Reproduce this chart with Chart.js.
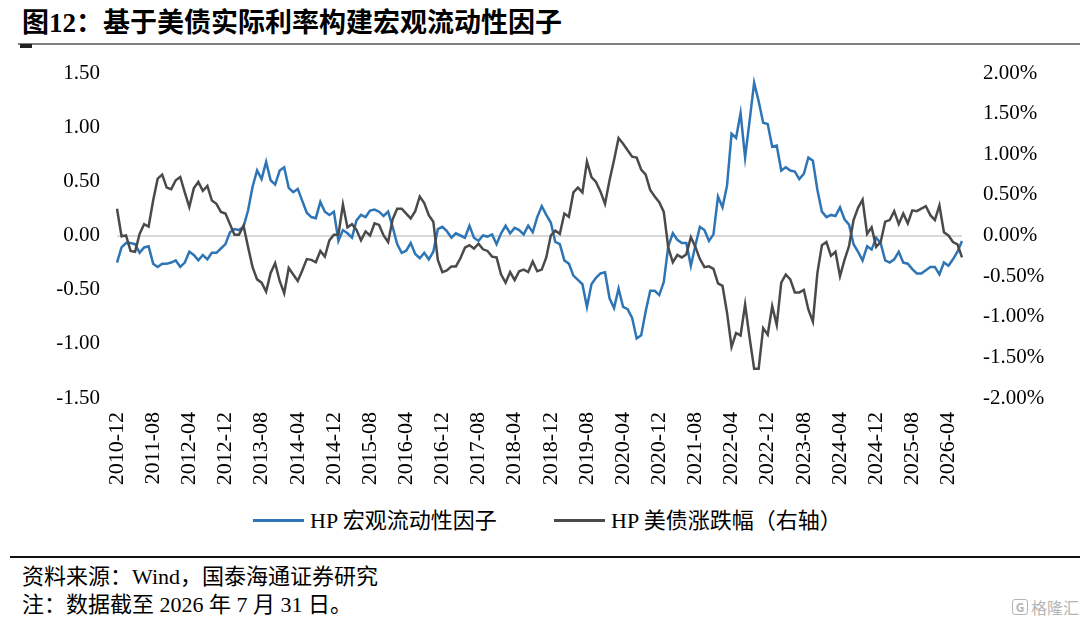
<!DOCTYPE html>
<html>
<head>
<meta charset="utf-8">
<script src="https://cdn.jsdelivr.net/npm/chart.js@4.4.0/dist/chart.umd.min.js"></script>
<style>
  body { margin: 0; background: #fff; }
  #page { position: relative; width: 1080px; height: 625px; overflow: hidden; background: #fff;
          font-family: 'Liberation Serif', 'Noto Sans CJK SC', serif; color: #000; }
  #title { position: absolute; left: 22px; top: 5px; font-size: 27px; font-weight: bold; line-height: 36px;
           font-family: 'Liberation Serif', 'Noto Sans CJK SC', serif; }
  #titleLine { position: absolute; left: 18px; top: 43px; width: 1062px; height: 2px; background: #808080; }
  #titleMark { position: absolute; left: 20px; top: 44px; width: 12px; height: 4px; background: #222; }
  #box { position: absolute; left: 0; top: 0; width: 1080px; height: 500px; }
  .leg { position: absolute; top: 507px; font-size: 22px; line-height: 28px; white-space: nowrap; }
  .leg span { display: inline-block; width: 51px; height: 3px; vertical-align: middle; margin-right: 6px; position: relative; top: -2px; }
  #bottomLine { position: absolute; left: 10px; top: 556px; width: 1070px; height: 2px; background: #111; }
  .foot { position: absolute; left: 22px; font-size: 22px; line-height: 28px; white-space: nowrap; }
  #mark { position: absolute; left: 1012px; top: 595px; font-size: 16px; color: #b5b5b5; font-family: 'Noto Sans CJK SC', sans-serif; }
  #mark b { display: inline-block; border: 1.5px solid #b5b5b5; border-radius: 3px; font-size: 12px; line-height: 14px;
            width: 14px; text-align: center; margin-right: 3px; vertical-align: 2px; }
</style>
</head>
<body>
<div id="page">
  <div id="title">图12：基于美债实际利率构建宏观流动性因子</div>
  <div id="titleLine"></div>
  <div id="titleMark"></div>
  <div id="box"><canvas id="myChart"></canvas></div>
  <div class="leg" style="left:253px"><span style="background:#2e75b6"></span>HP 宏观流动性因子</div>
  <div class="leg" style="left:554px"><span style="background:#4a4a4a"></span>HP 美债涨跌幅（右轴）</div>
  <div id="bottomLine"></div>
  <div class="foot" style="top:563px">资料来源：Wind，国泰海通证券研究</div>
  <div class="foot" style="top:591px">注：数据截至 2026 年 7 月 31 日。</div>
  <div id="mark"><b>G</b>格隆汇</div>
</div>
<script>
// monthly categories, 2010-12 .. 2026-07
const START_YEAR = 2010, START_MONTH = 12, N_POINTS = 188;
var months = [];
for (var k = 0; k < N_POINTS; k++) {
    var m = START_MONTH - 1 + k;
    var y = START_YEAR + Math.floor(m / 12);
    var mm = (m % 12) + 1;
    months.push(y + '-' + (mm < 10 ? '0' : '') + mm);
}

// labels that are shown on the x axis
const tickLabels = ['2010-12', '2011-08', '2012-04', '2012-12', '2013-08', '2014-04', '2014-12', '2015-08',
    '2016-04', '2016-12', '2017-08', '2018-04', '2018-12', '2019-08', '2020-04', '2020-12',
    '2021-08', '2022-04', '2022-12', '2023-08', '2024-04', '2024-12', '2025-08', '2026-04'];

// HP 宏观流动性因子 (left axis)
const hpFactor = [
    -0.25, -0.11, -0.07, -0.07, -0.08, -0.16, -0.11, -0.10, -0.26, -0.29,
    -0.26, -0.26, -0.25, -0.23, -0.29, -0.25, -0.15, -0.18, -0.23, -0.18,
    -0.22, -0.16, -0.16, -0.12, -0.08, 0.03, 0.06, 0.05, 0.08, 0.23,
    0.45, 0.60, 0.52, 0.68, 0.51, 0.47, 0.60, 0.63, 0.44, 0.40,
    0.43, 0.32, 0.21, 0.17, 0.16, 0.31, 0.22, 0.19, 0.22, -0.05,
    0.05, 0.02, -0.02, 0.14, 0.19, 0.17, 0.23, 0.24, 0.22, 0.18,
    0.22, 0.08, -0.08, -0.16, -0.14, -0.07, -0.17, -0.21, -0.16, -0.22,
    -0.15, 0.06, 0.08, 0.04, -0.02, 0.02, 0.00, -0.02, 0.09, -0.02,
    -0.05, 0.00, -0.01, 0.01, -0.08, 0.02, 0.09, 0.02, 0.07, 0.05,
    0.01, 0.09, 0.03, 0.17, 0.27, 0.19, 0.12, -0.06, -0.08, -0.23,
    -0.26, -0.37, -0.41, -0.45, -0.66, -0.45, -0.39, -0.35, -0.34, -0.58,
    -0.67, -0.49, -0.66, -0.68, -0.76, -0.95, -0.92, -0.70, -0.51, -0.51,
    -0.55, -0.43, -0.10, 0.02, -0.04, -0.07, -0.07, -0.28, -0.09, 0.08,
    0.05, -0.05, 0.01, 0.36, 0.26, 0.46, 0.94, 0.90, 1.13, 0.72,
    1.06, 1.41, 1.24, 1.04, 1.03, 0.82, 0.83, 0.60, 0.63, 0.60,
    0.59, 0.52, 0.57, 0.72, 0.69, 0.42, 0.22, 0.17, 0.19, 0.18,
    0.26, 0.15, 0.10, -0.08, -0.15, -0.23, -0.10, -0.13, -0.02, -0.07,
    -0.23, -0.25, -0.22, -0.15, -0.25, -0.26, -0.31, -0.35, -0.35, -0.32,
    -0.29, -0.29, -0.36, -0.25, -0.28, -0.22, -0.15, -0.05
];

// HP 美债涨跌幅, in % (right axis)
const hpBond = [
    0.33, -0.01, 0.00, -0.19, -0.20, 0.02, 0.14, 0.11, 0.43, 0.70,
    0.75, 0.59, 0.57, 0.68, 0.72, 0.53, 0.35, 0.58, 0.66, 0.55,
    0.61, 0.43, 0.39, 0.29, 0.27, 0.14, 0.01, 0.01, 0.12, -0.14,
    -0.39, -0.54, -0.58, -0.69, -0.46, -0.34, -0.56, -0.71, -0.40, -0.48,
    -0.56, -0.43, -0.29, -0.30, -0.33, -0.19, -0.26, -0.06, 0.01, 0.01,
    0.38, 0.10, 0.14, 0.07, -0.06, 0.05, 0.00, 0.15, 0.13, 0.00,
    -0.08, 0.20, 0.33, 0.33, 0.27, 0.21, 0.30, 0.48, 0.40, 0.25,
    0.17, -0.30, -0.45, -0.43, -0.38, -0.38, -0.28, -0.15, -0.12, -0.16,
    -0.10, -0.17, -0.19, -0.26, -0.27, -0.48, -0.58, -0.45, -0.55, -0.44,
    -0.42, -0.45, -0.32, -0.44, -0.42, -0.27, 0.00, 0.06, 0.02, 0.27,
    0.23, 0.53, 0.59, 0.53, 0.91, 0.72, 0.66, 0.54, 0.39, 0.68,
    0.93, 1.20, 1.13, 1.05, 0.97, 0.96, 0.81, 0.75, 0.56, 0.48,
    0.41, 0.29, -0.15, -0.33, -0.24, -0.27, -0.23, -0.02, -0.14, -0.29,
    -0.39, -0.38, -0.41, -0.59, -0.62, -0.95, -1.37, -1.20, -1.23, -0.85,
    -1.26, -1.64, -1.64, -1.14, -1.22, -0.87, -1.10, -0.58, -0.48, -0.54,
    -0.70, -0.70, -0.67, -0.91, -1.06, -0.46, -0.12, -0.08, -0.25, -0.20,
    -0.50, -0.30, -0.13, 0.19, 0.34, 0.44, 0.02, 0.10, -0.14, -0.08,
    0.17, 0.19, 0.30, 0.14, 0.27, 0.15, 0.31, 0.30, 0.33, 0.36,
    0.25, 0.19, 0.37, 0.04, 0.00, -0.08, -0.11, -0.27
];

const tickFont = { family: 'Liberation Serif', size: 21 };

var ctx = document.getElementById('myChart').getContext('2d');
var chart = new Chart(ctx, {
    type: 'line',
    data: {
        labels: months,
        datasets: [{
            label: 'HP 宏观流动性因子',
            data: hpFactor,
            borderColor: '#2e75b6',
            borderWidth: 2.5,
            pointRadius: 0,
            yAxisID: 'y',
            order: 1
        }, {
            label: 'HP 美债涨跌幅（右轴）',
            data: hpBond,
            borderColor: '#4a4a4a',
            borderWidth: 2.5,
            pointRadius: 0,
            yAxisID: 'y1',
            order: 0
        }]
    },
    options: {
        responsive: true,
        maintainAspectRatio: false,
        animation: false,
        layout: { padding: { top: 73, left: 0, right: 0, bottom: 0 } },
        plugins: { legend: { display: false }, tooltip: { enabled: false } },
        scales: {
            x: {
                type: 'category',
                offset: false,
                grid: { display: false, drawTicks: false },
                border: { display: false },
                afterFit: function(s) { s.height = 102; },
                ticks: {
                    autoSkip: false,
                    minRotation: 90,
                    maxRotation: 90,
                    padding: 14,
                    color: '#000',
                    font: { family: 'Liberation Serif', size: 22 },
                    callback: function(v, i) {
                        return tickLabels.indexOf(months[i]) >= 0 ? months[i] : '';
                    }
                }
            },
            y: {
                position: 'left',
                min: -1.5,
                max: 1.5,
                afterFit: function(s) { s.width = 117; },
                grid: {
                    drawTicks: false,
                    lineWidth: 2,
                    color: function(c) { return c.tick && c.tick.value === 0 ? '#d9d9d9' : 'rgba(0,0,0,0)'; }
                },
                border: { display: false },
                ticks: {
                    stepSize: 0.5,
                    padding: 17,
                    color: '#000',
                    font: tickFont,
                    callback: function(v) { return v.toFixed(2); }
                }
            },
            y1: {
                position: 'right',
                min: -2,
                max: 2,
                afterFit: function(s) { s.width = 118; },
                grid: { display: false, drawTicks: false },
                border: { display: false },
                ticks: {
                    stepSize: 0.5,
                    padding: 21,
                    color: '#000',
                    font: tickFont,
                    callback: function(v) { return v.toFixed(2) + '%'; }
                }
            }
        }
    }
});
</script>
</body>
</html>
